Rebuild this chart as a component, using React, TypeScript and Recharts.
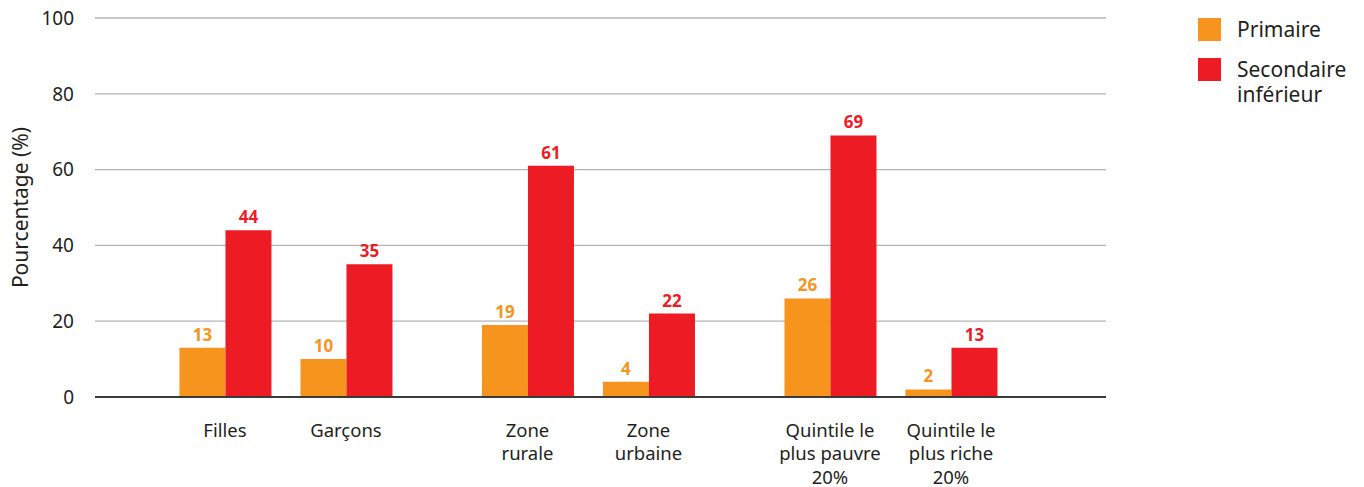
import { Bar, BarChart, CartesianGrid, LabelList, XAxis, YAxis } from "recharts";

const categories = [
  "Filles",
  "Garçons",
  "Zone\nrurale",
  "Zone\nurbaine",
  "Quintile le\nplus pauvre\n20%",
  "Quintile le\nplus riche\n20%",
];
const primaire = [13, 10, 19, 4, 26, 2];
const secondaire = [44, 35, 61, 22, 69, 13];
const yTicks = [0, 20, 40, 60, 80, 100];

const ORANGE = "#f7941d";
const RED = "#ed1c24";
const INK = "#231f20";
const FONT = "'Noto Sans', 'Liberation Sans', Arial, sans-serif";

// categories come in pairs, with half a slot of extra space between pairs
const slotOf = (i: number) => i + Math.floor(i / 2) * 0.5;

const data = categories.map((c, i) => ({
  pos: slotOf(i),
  label: c,
  primaire: primaire[i],
  secondaire: secondaire[i],
}));
const slots = data.map((d) => d.pos);

function CategoryTick({ x, y, payload }: any) {
  const row = data.find((d) => d.pos === payload.value);
  const lines = row ? row.label.split("\n") : [];
  return (
    <text x={x} y={y} textAnchor="middle" fontSize={18.5} fill={INK} fontFamily={FONT}>
      {lines.map((l, k) => (
        <tspan key={k} x={x} dy={k === 0 ? 40 : 23.3}>
          {l}
        </tspan>
      ))}
    </text>
  );
}

function LegendBox() {
  const item = (color: string, lines: string[]) => (
    <div style={{ display: "flex", alignItems: "flex-start", marginBottom: 15 }}>
      <div style={{ width: 23, height: 23, background: color, flex: "none" }} />
      <div style={{ marginLeft: 16, fontSize: 21, lineHeight: "25.7px", color: INK, marginTop: -1 }}>
        {lines.map((l) => (
          <div key={l}>{l}</div>
        ))}
      </div>
    </div>
  );
  return (
    <div style={{ position: "absolute", left: 1198, top: 18, fontFamily: FONT }}>
      {item(ORANGE, ["Primaire"])}
      {item(RED, ["Secondaire", "inférieur"])}
    </div>
  );
}

export default function App() {
  return (
    <div style={{ position: "absolute", left: 0, top: 0, width: 1364, height: 487, background: "#fff" }}>
      <BarChart
        width={1364}
        height={487}
        data={data}
        margin={{ top: 18, right: 258, left: 0, bottom: 0 }}
        barGap={0}
      >
        <CartesianGrid vertical={false} stroke="#b1b3b6" strokeWidth={1.3} />
        <XAxis
          dataKey="pos"
          type="number"
          domain={[-1.074, 7.281]}
          ticks={slots}
          interval={0}
          height={90}
          tickLine={false}
          tickSize={0}
          tickMargin={0}
          axisLine={{ stroke: "#3a3a3a", strokeWidth: 2 }}
          tick={<CategoryTick />}
        />
        <YAxis
          domain={[0, 100]}
          ticks={yTicks}
          width={95}
          axisLine={false}
          tickLine={false}
          tickSize={0}
          tickMargin={21}
          tick={{ fontSize: 19, fill: INK, fontFamily: FONT }}
          label={{
            content: () => (
              <text
                x={20}
                y={207.5}
                transform="rotate(-90 20 207.5)"
                textAnchor="middle"
                dominantBaseline="central"
                fontSize={21}
                fill={INK}
                fontFamily={FONT}
              >
                Pourcentage (%)
              </text>
            ),
          }}
        />
        <Bar dataKey="primaire" name="Primaire" fill={ORANGE} barSize={46} isAnimationActive={false}>
          <LabelList
            dataKey="primaire"
            position="top"
            offset={7}
            fill={ORANGE}
            fontSize={17}
            fontWeight={700}
            fontFamily={FONT}
          />
        </Bar>
        <Bar dataKey="secondaire" name="Secondaire inférieur" fill={RED} barSize={46} isAnimationActive={false}>
          <LabelList
            dataKey="secondaire"
            position="top"
            offset={7}
            fill={RED}
            fontSize={17}
            fontWeight={700}
            fontFamily={FONT}
          />
        </Bar>
      </BarChart>
      <LegendBox />
    </div>
  );
}
